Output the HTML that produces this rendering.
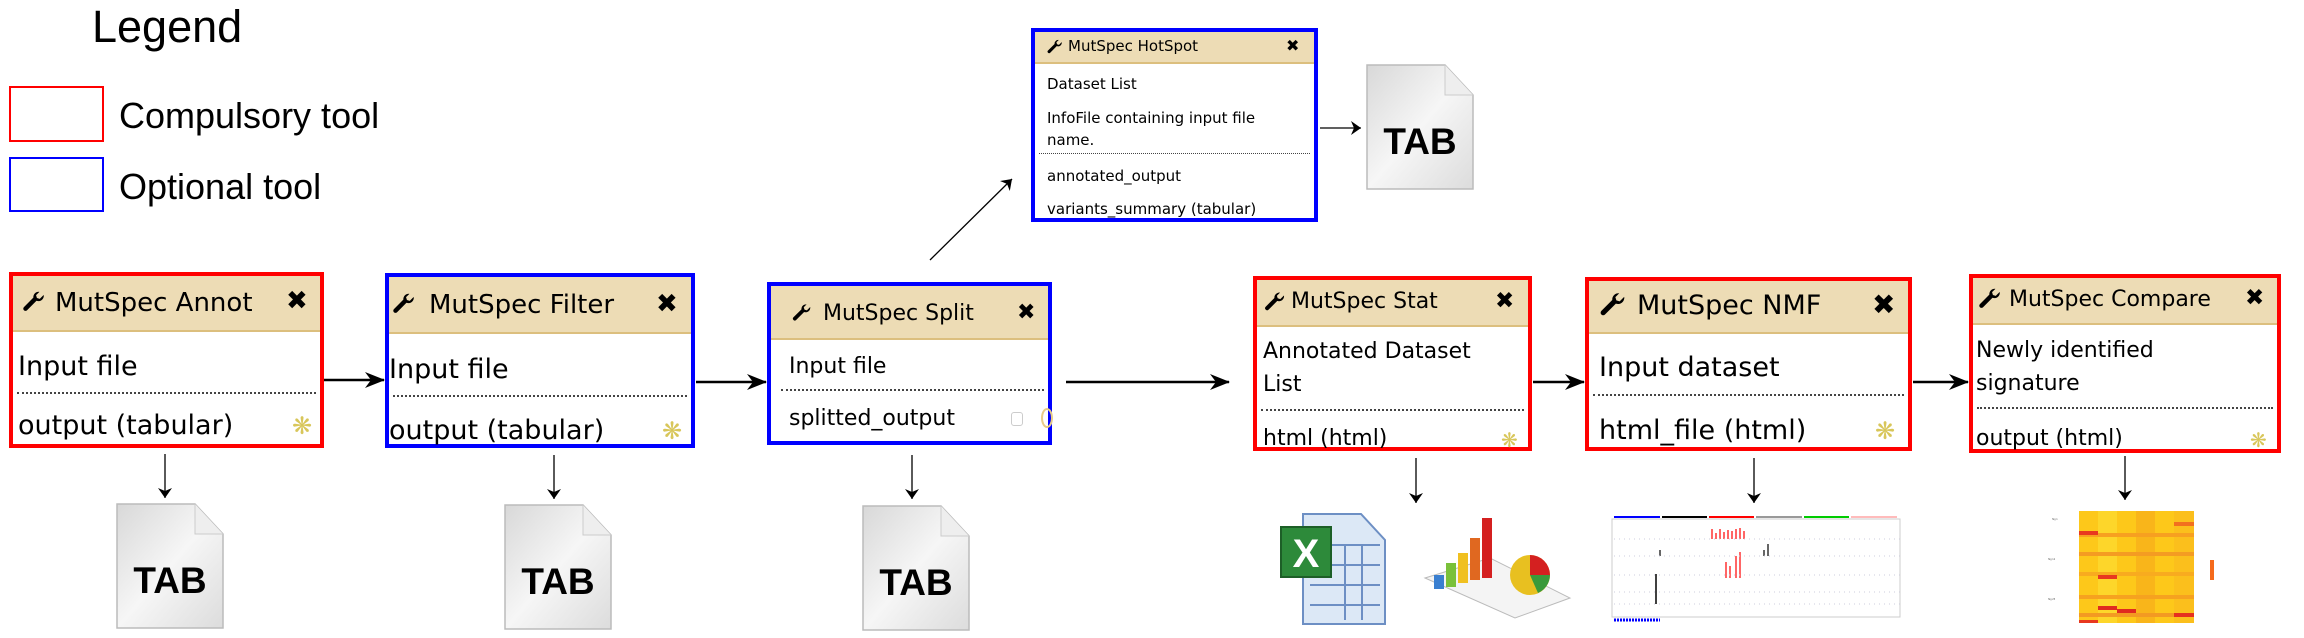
<!DOCTYPE html>
<html><head><meta charset="utf-8"><style>
*{margin:0;padding:0;box-sizing:border-box}
body{width:2304px;height:638px;background:#fff;position:relative;overflow:hidden;font-family:"DejaVu Sans","Liberation Sans",sans-serif;color:#000}
.abs{position:absolute}
.box{position:absolute;border:4px solid;background:#fff}
.red{border-color:#f00}.blue{border-color:#00f}
.hd{position:absolute;left:0;right:0;top:0;background:#eddcb5;border-bottom:2px solid #dcbf7e}
.t{position:absolute;white-space:nowrap;line-height:1}
.dot{position:absolute;left:4px;right:4px;border-top:2px dotted #444}
.gear{position:absolute;color:#d8c65a;line-height:1}
</style></head><body>
<svg width="0" height="0" style="position:absolute"><defs>
<symbol id="wr" viewBox="0 0 24 24"><path d="M21 5.5a5 5 0 0 1-6.7 5.4L5.6 19.6a2 2 0 0 1-2.9-2.9l8.7-8.7A5 5 0 0 1 17 2.6l-3.1 3.1.8 2.6 2.6.8L20.4 6z" fill="#000"/></symbol>
<symbol id="tabi" viewBox="0 0 108 126"><defs><linearGradient id="g1" x1="0" y1="0" x2="1" y2="1"><stop offset="0" stop-color="#d8d8d8"/><stop offset=".5" stop-color="#f6f6f6"/><stop offset="1" stop-color="#dcdcdc"/></linearGradient></defs><path d="M1 1h78l28 30v94H1z" fill="url(#g1)" stroke="#bbb" stroke-width="1.5"/><path d="M79 1v30h28" fill="#eee" stroke="#ccc"/><text x="54" y="90" text-anchor="middle" font-family="Liberation Sans,sans-serif" font-weight="bold" font-size="37" fill="#000">TAB</text></symbol>
<marker id="big" viewBox="0 0 20 16" refX="19" refY="8" markerWidth="20" markerHeight="16" markerUnits="userSpaceOnUse" orient="auto"><path d="M0 0L20 8 0 16 6 8z" fill="#000"/></marker>
<marker id="sm" viewBox="0 0 10 14" refX="10" refY="7" markerWidth="10" markerHeight="14" markerUnits="userSpaceOnUse" orient="auto"><path d="M0 0L10 7 0 14 3 7z" fill="#000"/></marker>
</defs></svg>

<div class="t" style="left:92px;top:4px;font-family:'Liberation Sans',sans-serif;font-size:45px">Legend</div>
<div class="abs" style="left:9px;top:86px;width:95px;height:56px;border:2px solid #f00"></div>
<div class="abs" style="left:9px;top:157px;width:95px;height:55px;border:2px solid #00f"></div>
<div class="t" style="left:119px;top:98px;font-family:'Liberation Sans',sans-serif;font-size:36px">Compulsory tool</div>
<div class="t" style="left:119px;top:169px;font-family:'Liberation Sans',sans-serif;font-size:36px">Optional tool</div>

<!-- Annot -->
<div class="box red" style="left:9px;top:272px;width:315px;height:176px">
 <div class="hd" style="height:56px"></div>
 <svg class="abs" style="left:8px;top:13px" width="26" height="26"><use href="#wr"/></svg>
 <div class="t" style="left:42px;top:14px;font-size:26px">MutSpec Annot</div>
 <div class="t" style="left:273px;top:12px;font-size:26px;font-weight:bold">✖</div>
 <div class="t" style="left:5px;top:77px;font-size:27px">Input file</div>
 <div class="dot" style="top:116px"></div>
 <div class="t" style="left:5px;top:136px;font-size:27px">output (tabular)</div>
 <div class="gear" style="left:279px;top:138px;font-size:24px">❋</div>
</div>
<!-- Filter -->
<div class="box blue" style="left:385px;top:273px;width:310px;height:175px">
 <div class="hd" style="height:57px"></div>
 <svg class="abs" style="left:2px;top:14px" width="26" height="26"><use href="#wr"/></svg>
 <div class="t" style="left:40px;top:15px;font-size:26px">MutSpec Filter</div>
 <div class="t" style="left:267px;top:14px;font-size:26px;font-weight:bold">✖</div>
 <div class="t" style="left:0px;top:79px;font-size:27px">Input file</div>
 <div class="dot" style="top:118px"></div>
 <div class="t" style="left:0px;top:140px;font-size:27px">output (tabular)</div>
 <div class="gear" style="left:273px;top:142px;font-size:24px">❋</div>
</div>
<!-- Split -->
<div class="box blue" style="left:767px;top:282px;width:285px;height:163px">
 <div class="hd" style="height:54px"></div>
 <svg class="abs" style="left:20px;top:16px" width="22" height="22"><use href="#wr"/></svg>
 <div class="t" style="left:52px;top:17px;font-size:22px">MutSpec Split</div>
 <div class="t" style="left:246px;top:16px;font-size:22px;font-weight:bold">✖</div>
 <div class="t" style="left:18px;top:70px;font-size:22px">Input file</div>
 <div class="dot" style="top:103px;left:10px"></div>
 <div class="t" style="left:18px;top:122px;font-size:22px">splitted_output</div>
 <div class="abs" style="left:240px;top:126px;width:12px;height:14px;border:1px solid #ccc;border-radius:3px"></div>
 <div class="abs" style="left:270px;top:122px;width:12px;height:20px;border:2px solid #e8cc88;border-radius:50%"></div>
</div>
<!-- HotSpot -->
<div class="box blue" style="left:1031px;top:28px;width:287px;height:194px">
 <div class="hd" style="height:32px"></div>
 <svg class="abs" style="left:11px;top:6px" width="18" height="18"><use href="#wr"/></svg>
 <div class="t" style="left:33px;top:7px;font-size:15px">MutSpec HotSpot</div>
 <div class="t" style="left:251px;top:6px;font-size:16px;font-weight:bold">✖</div>
 <div class="t" style="left:12px;top:45px;font-size:15px">Dataset List</div>
 <div class="t" style="left:12px;top:79px;font-size:15px">InfoFile containing input file</div>
 <div class="t" style="left:12px;top:101px;font-size:15px">name.</div>
 <div class="dot" style="top:121px;border-top-width:1px"></div>
 <div class="t" style="left:12px;top:137px;font-size:15px">annotated_output</div>
 <div class="t" style="left:12px;top:170px;font-size:15px">variants_summary (tabular)</div>
</div>
<!-- Stat -->
<div class="box red" style="left:1253px;top:276px;width:279px;height:175px">
 <div class="hd" style="height:47px"></div>
 <svg class="abs" style="left:6px;top:10px" width="24" height="24"><use href="#wr"/></svg>
 <div class="t" style="left:34px;top:11px;font-size:22px">MutSpec Stat</div>
 <div class="t" style="left:238px;top:10px;font-size:23px;font-weight:bold">✖</div>
 <div class="t" style="left:6px;top:61px;font-size:22px">Annotated Dataset</div>
 <div class="t" style="left:6px;top:94px;font-size:22px">List</div>
 <div class="dot" style="top:129px"></div>
 <div class="t" style="left:6px;top:148px;font-size:22px">html (html)</div>
 <div class="gear" style="left:244px;top:150px;font-size:20px">❋</div>
</div>
<!-- NMF -->
<div class="box red" style="left:1585px;top:277px;width:327px;height:174px">
 <div class="hd" style="height:53px"></div>
 <svg class="abs" style="left:9px;top:9px" width="30" height="30"><use href="#wr"/></svg>
 <div class="t" style="left:48px;top:11px;font-size:27px">MutSpec NMF</div>
 <div class="t" style="left:283px;top:10px;font-size:28px;font-weight:bold">✖</div>
 <div class="t" style="left:10px;top:73px;font-size:27px">Input dataset</div>
 <div class="dot" style="top:113px"></div>
 <div class="t" style="left:10px;top:136px;font-size:27px">html_file (html)</div>
 <div class="gear" style="left:286px;top:138px;font-size:24px">❋</div>
</div>
<!-- Compare -->
<div class="box red" style="left:1969px;top:274px;width:312px;height:179px">
 <div class="hd" style="height:47px"></div>
 <svg class="abs" style="left:4px;top:8px" width="26" height="26"><use href="#wr"/></svg>
 <div class="t" style="left:36px;top:11px;font-size:22px">MutSpec Compare</div>
 <div class="t" style="left:272px;top:9px;font-size:23px;font-weight:bold">✖</div>
 <div class="t" style="left:3px;top:62px;font-size:22px">Newly identified</div>
 <div class="t" style="left:3px;top:95px;font-size:22px">signature</div>
 <div class="dot" style="top:129px"></div>
 <div class="t" style="left:3px;top:150px;font-size:22px">output (html)</div>
 <div class="gear" style="left:277px;top:152px;font-size:20px">❋</div>
</div>

<svg class="abs" style="left:0;top:0" width="2304" height="638">
 <g stroke="#000" stroke-width="2.5" fill="none">
  <line x1="324" y1="380" x2="384" y2="380" marker-end="url(#big)"/>
  <line x1="696" y1="382" x2="766" y2="382" marker-end="url(#big)"/>
  <line x1="1066" y1="382" x2="1229" y2="382" marker-end="url(#big)"/>
  <line x1="1533" y1="382" x2="1584" y2="382" marker-end="url(#big)"/>
  <line x1="1913" y1="382" x2="1968" y2="382" marker-end="url(#big)"/>
 </g>
 <g stroke="#000" stroke-width="1.3" fill="none">
  <line x1="930" y1="260" x2="1012" y2="179" marker-end="url(#sm)"/>
  <line x1="1320" y1="128" x2="1361" y2="128" marker-end="url(#sm)"/>
  <line x1="165" y1="454" x2="165" y2="498" marker-end="url(#sm)"/>
  <line x1="554" y1="455" x2="554" y2="499" marker-end="url(#sm)"/>
  <line x1="912" y1="455" x2="912" y2="499" marker-end="url(#sm)"/>
  <line x1="1416" y1="458" x2="1416" y2="503" marker-end="url(#sm)"/>
  <line x1="1754" y1="458" x2="1754" y2="503" marker-end="url(#sm)"/>
  <line x1="2125" y1="456" x2="2125" y2="500" marker-end="url(#sm)"/>
 </g>
 <use href="#tabi" x="1366" y="64" width="108" height="126"/>
 <use href="#tabi" x="116" y="503" width="108" height="126"/>
 <use href="#tabi" x="504" y="504" width="108" height="126"/>
 <use href="#tabi" x="862" y="505" width="108" height="126"/>
 <!-- excel -->
 <path d="M1303 514h58l24 26v84h-82z" fill="#dce8f6" stroke="#6d8fc4" stroke-width="2"/>
 <g stroke="#6d8fc4" stroke-width="2"><line x1="1330" y1="545" x2="1380" y2="545"/><line x1="1330" y1="565" x2="1380" y2="565"/><line x1="1310" y1="585" x2="1380" y2="585"/><line x1="1310" y1="605" x2="1380" y2="605"/><line x1="1345" y1="545" x2="1345" y2="620"/><line x1="1362" y1="545" x2="1362" y2="620"/></g>
 <rect x="1281" y="527" width="50" height="50" fill="#2d8a3a" stroke="#1d5f27" stroke-width="2"/>
 <text x="1306" y="567" text-anchor="middle" font-family="Liberation Sans,sans-serif" font-weight="bold" font-size="40" fill="#fff">X</text>
 <!-- chart -->
 <path d="M1425 578l90 40 55-20-80-40z" fill="#f4f4f4" stroke="#bbb"/>
 <rect x="1434" y="575" width="10" height="14" fill="#3a7fd0"/><rect x="1446" y="563" width="10" height="24" fill="#7ac13a"/><rect x="1458" y="553" width="10" height="30" fill="#f0c020"/><rect x="1470" y="538" width="10" height="42" fill="#e06820"/><rect x="1482" y="518" width="10" height="60" fill="#d42020"/>
 <circle cx="1530" cy="575" r="20" fill="#e8c020"/><path d="M1530 575l0-20a20 20 0 0 1 20 20z" fill="#d42020"/><path d="M1530 575l20 0a20 20 0 0 1-12 18z" fill="#3a9a3a"/>
 <!-- NMF plot -->
 <g>
  <rect x="1612" y="519" width="288" height="98" fill="none" stroke="#ccc" stroke-width="1"/>
  <line x1="1614" y1="517" x2="1660" y2="517" stroke="#00f" stroke-width="2"/><line x1="1662" y1="517" x2="1707" y2="517" stroke="#000" stroke-width="2"/><line x1="1709" y1="517" x2="1754" y2="517" stroke="#f00" stroke-width="2"/><line x1="1756" y1="517" x2="1802" y2="517" stroke="#999" stroke-width="2"/><line x1="1804" y1="517" x2="1849" y2="517" stroke="#0c0" stroke-width="2"/><line x1="1851" y1="517" x2="1897" y2="517" stroke="#fbb" stroke-width="2"/>
  <g stroke-width="1.2">
   <path d="M1712 539v-10M1716 539v-6M1720 539v-10M1724 539v-7M1728 539v-9M1732 539v-8M1736 539v-10M1740 539v-11M1744 539v-8" stroke="#f00"/>
   <path d="M1726 578v-16M1730 578v-12M1736 578v-22M1740 578v-26" stroke="#f00"/>
   <path d="M1660 556v-6M1768 556v-12M1764 556v-6" stroke="#000"/>
   <path d="M1656 604v-30" stroke="#000" stroke-width="1.5"/>
   <path d="M1614 620h46" stroke="#00f" stroke-width="3" stroke-dasharray="2 1"/>
   <path d="M1614 539h290M1614 556h290M1614 575h290M1614 592h290M1614 604h290" stroke="#ccd" stroke-width="1" stroke-dasharray="1 4"/>
  </g>
 </g>
 <!-- heatmap -->
 <g>
  <rect x="2079" y="511" width="115" height="112" fill="#fdc81a"/>
  <rect x="2098" y="511" width="19" height="112" fill="#fdd62a"/>
  <rect x="2136" y="511" width="19" height="112" fill="#f9b51a"/>
  <rect x="2174" y="511" width="20" height="112" fill="#fbbf1c"/>
  <rect x="2079" y="533" width="115" height="4" fill="#f7a020"/>
  <rect x="2079" y="552" width="115" height="4" fill="#f49c22"/>
  <rect x="2079" y="572" width="115" height="4" fill="#f8ab1f"/>
  <rect x="2079" y="595" width="115" height="4" fill="#f6a21f"/>
  <rect x="2079" y="613" width="115" height="4" fill="#f39a22"/>
  <rect x="2079" y="531" width="19" height="4" fill="#e8381f"/>
  <rect x="2098" y="575" width="19" height="4" fill="#e8381f"/>
  <rect x="2098" y="606" width="19" height="4" fill="#e02a1f"/>
  <rect x="2117" y="609" width="19" height="4" fill="#e02a1f"/>
  <rect x="2174" y="613" width="20" height="4" fill="#e6301f"/>
  <rect x="2079" y="620" width="19" height="3" fill="#e8381f"/>
  <rect x="2174" y="522" width="20" height="4" fill="#f2701f"/>
  <rect x="2210" y="560" width="4" height="20" fill="#f56a1c"/>
  <g font-size="2.5" fill="#555" font-family="Liberation Sans,sans-serif"><text x="2052" y="520">Sig 1</text><text x="2048" y="560">Sig 12</text><text x="2048" y="600">Sig 25</text></g>
 </g>
</svg>
</body></html>
